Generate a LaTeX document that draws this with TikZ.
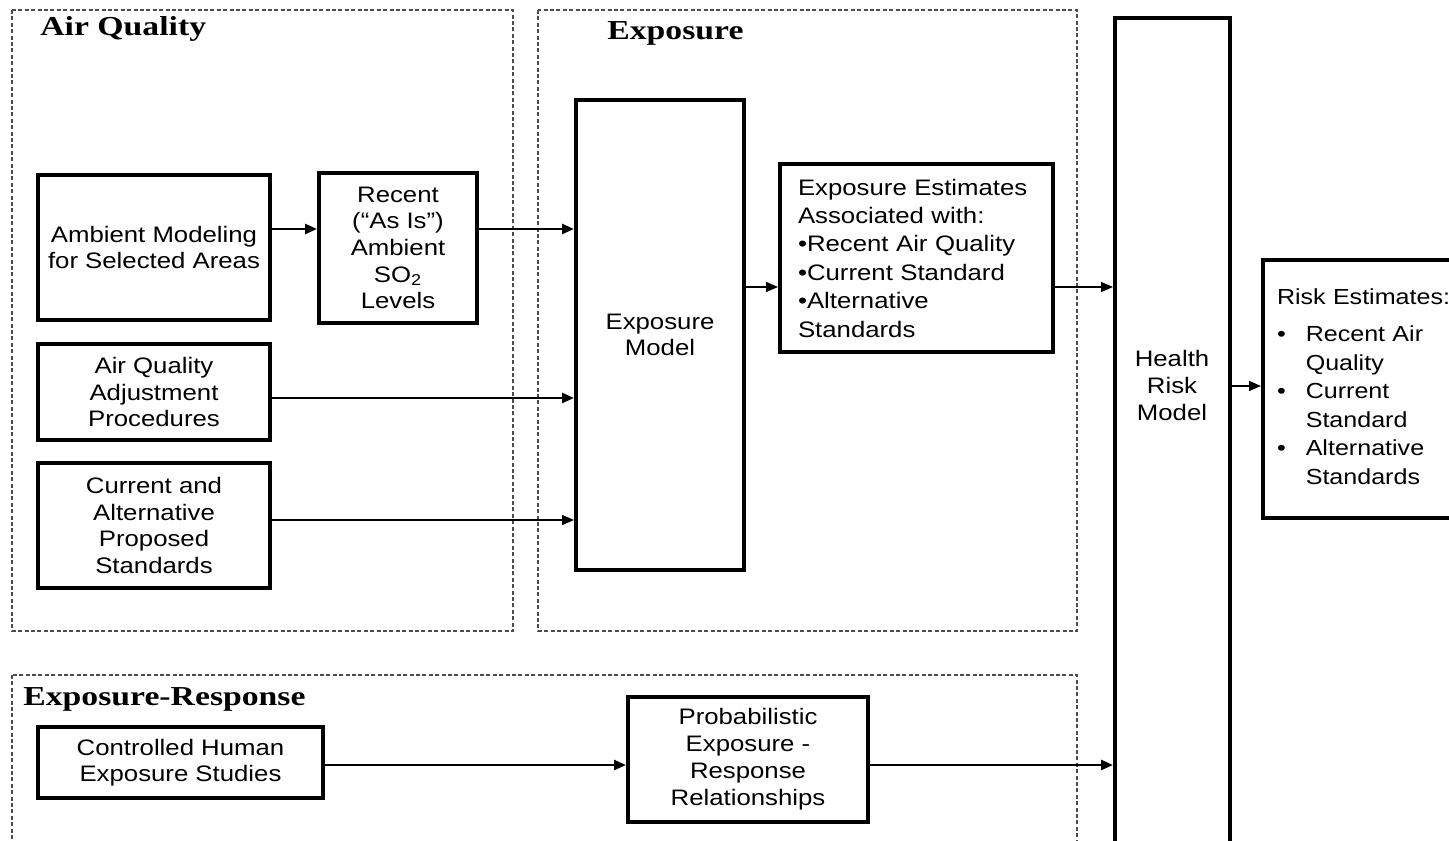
\documentclass[tikz,border=0pt]{standalone}
\usepackage{fontspec}
\setmainfont{Liberation Sans}[FakeStretch=1.15]
\newfontfamily\headfont{Liberation Serif}[FakeStretch=1.23]
\usetikzlibrary{positioning,arrows.meta}
\definecolor{grpgrey}{gray}{0.30}
\tikzset{
  fig/.style={x=0.5pt,y=-0.5pt},
  box/.style={draw,line width=2pt,align=center,inner sep=2pt,
              font=\fontsize{11.2}{13.3}\selectfont},
  txt/.style={align=center,inner sep=0pt,font=\fontsize{11.2}{13.5}\selectfont},
  grp/.style={draw=grpgrey,line width=0.6pt,dash pattern=on 2pt off 1.2pt},
  ttl/.style={font=\headfont\bfseries\fontsize{13.7}{16}\selectfont,inner sep=0pt},
  ln/.style={-{Triangle[length=6pt,width=5pt]},line width=1.3pt},
  lnt/.style={-{Triangle[length=6pt,width=5pt]},line width=0.7pt},
}

\begin{document}
\begin{tikzpicture}[fig]
\useasboundingbox (0,0) rectangle (1449,840);

% dashed groups
\draw[grp] (12,10) rectangle (513,631);
\draw[grp] (538,10) rectangle (1077,631);
\draw[grp] (12,675) rectangle (1077,870);

\node[ttl,anchor=base west] (aqt) at (40,36) {Air Quality};
\node[ttl,anchor=base west] (ext) at (607,40) {Exposure};
\node[ttl,anchor=base west] (ert) at (23,705) {Exposure-Response};

% air quality
\node[box,minimum width=116pt,minimum height=72.5pt] (amb) at (154,247.5)
  {Ambient Modeling\\for Selected Areas};
\node[box,minimum width=79pt,minimum height=75pt] (recent) at (398,248)
  {Recent\\(“As Is”)\\Ambient\\SO\textsubscript{2}\\Levels};
\node[box,minimum width=116pt,minimum height=48pt] (adj) at (154,392)
  {Air Quality\\Adjustment\\Procedures};
\node[box,minimum width=116pt,minimum height=62.5pt] (std) at (154,525.5)
  {Current and\\Alternative\\Proposed\\Standards};

% exposure
\node[box,minimum width=84pt,minimum height=235pt] (expm) at (660,335)
  {Exposure\\Model};
\node[box,minimum height=94pt,text width=118.5pt,inner xsep=9pt,align=left,
      font=\fontsize{11.2}{14.2}\selectfont] (expe) at (916.5,258)
  {Exposure Estimates\\Associated with:\\\textbullet Recent Air Quality\\
   \textbullet Current Standard\\\textbullet Alternative\\Standards};

% health risk
\node[box,minimum width=57.5pt,minimum height=431pt] (hrm) at (1172.5,449) {};
\node[txt] (hrmtxt) at (1172,385) {Health\\Risk\\Model};
\node[box,anchor=west,minimum height=129pt,text width=184pt,inner xsep=7pt,
      align=left,font=\fontsize{10.9}{14.3}\selectfont] (risk) at (1261,389)
  {\begin{tabular}{@{\hspace{0pt}}l@{\hspace{10pt}}l@{}}
   \multicolumn{2}{@{}l@{}}{Risk Estimates:}\\[4pt]
   \textbullet & Recent Air\\
               & Quality\\
   \textbullet & Current\\
               & Standard\\
   \textbullet & Alternative\\
               & Standards
   \end{tabular}};

% exposure-response
\node[box,minimum width=142.5pt,minimum height=35.5pt] (chs) at (180.5,762.5)
  {Controlled Human\\Exposure Studies};
\node[box,minimum width=120pt,minimum height=62.5pt,
      font=\fontsize{11.2}{13.5}\selectfont] (per) at (748,759.5)
  {Probabilistic\\Exposure -\\Response\\Relationships};

% connector rows
\coordinate (r1) at (0,229);
\coordinate (r2) at (0,398);
\coordinate (r3) at (0,520);
\coordinate (r4) at (0,287);
\coordinate (r5) at (0,386);
\coordinate (r6) at (0,765);

\draw[ln] (amb.east |- r1) -- (recent.west |- r1);
\draw[ln] (recent.east |- r1) -- (expm.west |- r1);
\draw[ln] (adj.east |- r2) -- (expm.west |- r2);
\draw[lnt] (std.east |- r3) -- (expm.west |- r3);
\draw[lnt] (expm.east |- r4) -- (expe.west |- r4);
\draw[lnt] (expe.east |- r4) -- (hrm.west |- r4);
\draw[lnt] (hrm.east |- r5) -- (risk.west |- r5);
\draw[ln] (chs.east |- r6) -- (per.west |- r6);
\draw[ln] (per.east |- r6) -- (hrm.west |- r6);

\end{tikzpicture}
\end{document}
